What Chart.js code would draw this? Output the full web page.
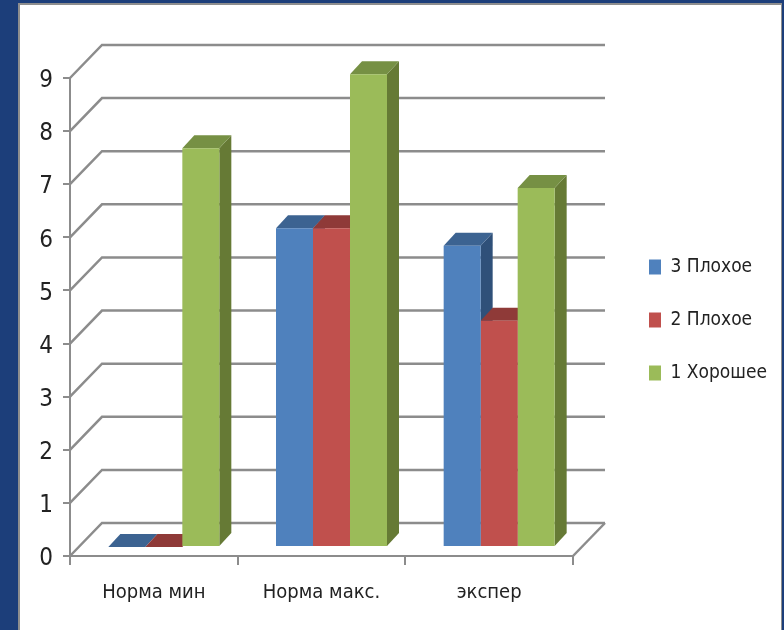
<!DOCTYPE html>
<html>
<head>
<meta charset="utf-8">
<title>Норма</title>
<script src="https://cdn.jsdelivr.net/npm/chart.js@4"></script>
<style>
  html, body { margin: 0; height: 100%; background: #1c3e7a; overflow: hidden; }
  .panel {
    position: absolute; left: 18px; top: 3px; width: 764px; height: 627px;
    background: #fff; border: solid #8e8e8e; border-width: 2px 1px 0 2px;
    box-sizing: border-box;
  }
  canvas { position: absolute; left: 0; top: 0; }
</style>
</head>
<body>
<div class="panel"></div>
<canvas id="chart" width="784" height="630"></canvas>
<script>
const categories = ['Норма мин', 'Норма макс.', 'экспер']
const seriesNames = ['3 Плохое', '2 Плохое', '1 Хорошее']
const bad3 = [0, 6, 5.67]
const bad2 = [0, 6, 4.26]
const good1 = [7.51, 8.9, 6.76]

const frontColors = ['#4f81bd', '#c0504d', '#9bbb59']
const topColors = ['#3c6391', '#8f3a38', '#769044']
const sideColors = ['#2f5079', '#7a2f2d', '#667a35']

const gridColor = '#8c8c8c'
const textColor = '#222222'
const fontName = '"Liberation Sans Narrow", "DejaVu Sans Condensed", sans-serif'

// depth of the walls and floor behind the axis
const wallDx = 32
const wallDy = 33
// bars stand a little way in from the front edge of the floor
const barShiftX = 10
const barShiftY = 9
const barDepthX = 12
const barDepthY = 13

function polygon(ctx, points, color) {
  ctx.fillStyle = color
  ctx.beginPath()
  points.forEach((p, i) => (i ? ctx.lineTo(p[0], p[1]) : ctx.moveTo(p[0], p[1])))
  ctx.closePath()
  ctx.fill()
}

const fake3d = {
  id: 'fake3d',
  beforeDatasetsDraw(chart) {
    const ctx = chart.ctx
    const yScale = chart.scales.y
    const area = chart.chartArea

    // side wall and back wall lines for each tick
    ctx.save()
    ctx.strokeStyle = gridColor
    ctx.lineWidth = 2.5
    yScale.ticks.forEach(tick => {
      const y = yScale.getPixelForValue(tick.value)
      ctx.beginPath()
      ctx.moveTo(area.left, y)
      ctx.lineTo(area.left + wallDx, y - wallDy)
      ctx.lineTo(area.right + wallDx, y - wallDy)
      ctx.stroke()
    })
    // floor edge on the right
    ctx.beginPath()
    ctx.moveTo(area.right, area.bottom)
    ctx.lineTo(area.right + wallDx, area.bottom - wallDy)
    ctx.stroke()
    ctx.restore()

    // tops and sides go down first, the library then paints the fronts over them
    ctx.save()
    ctx.translate(barShiftX, -barShiftY)
    chart.data.datasets.forEach((ds, i) => {
      chart.getDatasetMeta(i).data.forEach(bar => {
        const left = bar.x - bar.width / 2
        const right = bar.x + bar.width / 2
        polygon(ctx, [
          [right, bar.y],
          [right + barDepthX, bar.y - barDepthY],
          [right + barDepthX, bar.base - barDepthY],
          [right, bar.base]
        ], sideColors[i])
        polygon(ctx, [
          [left, bar.y],
          [left + barDepthX, bar.y - barDepthY],
          [right + barDepthX, bar.y - barDepthY],
          [right, bar.y]
        ], topColors[i])
      })
    })
    ctx.restore()

    ctx.save()
    ctx.translate(barShiftX, -barShiftY)
  },
  afterDatasetsDraw(chart) {
    chart.ctx.restore()
  },
  afterLayout(chart) {
    // legend sits clear of the back wall, centred on the walls rather than the canvas
    const legend = chart.legend
    legend.left = 649 - chart.options.plugins.legend.labels.padding
    legend.right = 784
    legend.top -= 34
    legend.bottom -= 34
  }
}

const chart = new Chart(document.getElementById('chart'), {
  type: 'bar',
  plugins: [fake3d],
  data: {
    labels: categories,
    datasets: [bad3, bad2, good1].map((values, i) => ({
      label: seriesNames[i],
      data: values,
      backgroundColor: frontColors[i],
      clip: false
    }))
  },
  options: {
    responsive: false,
    animation: false,
    layout: { padding: { top: 78, right: 0 } },
    datasets: {
      bar: { barPercentage: 1, categoryPercentage: 0.662 }
    },
    scales: {
      x: {
        offset: true,
        afterFit(scale) { scale.height = 74 },
        grid: {
          color: gridColor,
          lineWidth: 2,
          tickLength: 9,
          drawOnChartArea: false
        },
        border: { color: gridColor, width: 2 },
        ticks: {
          color: textColor,
          padding: 16,
          font: { family: fontName, size: 20 }
        }
      },
      y: {
        min: 0,
        max: 9,
        afterFit(scale) { scale.width = 70 },
        grid: {
          color: gridColor,
          lineWidth: 2,
          tickLength: 7,
          drawOnChartArea: false
        },
        border: { color: gridColor, width: 2 },
        ticks: {
          stepSize: 1,
          color: textColor,
          padding: 10,
          labelOffset: 3,
          font: { family: fontName, size: 24 }
        }
      }
    },
    plugins: {
      title: { display: false },
      tooltip: { enabled: false },
      legend: {
        position: 'right',
        labels: {
          boxWidth: 12,
          boxHeight: 15,
          padding: 34,
          color: textColor,
          font: { family: fontName, size: 19 }
        }
      }
    }
  }
})

// right edge of the plot has to land at x=573 whatever the legend measures
chart.options.layout.padding.right = 784 - 573 - chart.legend.width
chart.update('none')
</script>
</body>
</html>
